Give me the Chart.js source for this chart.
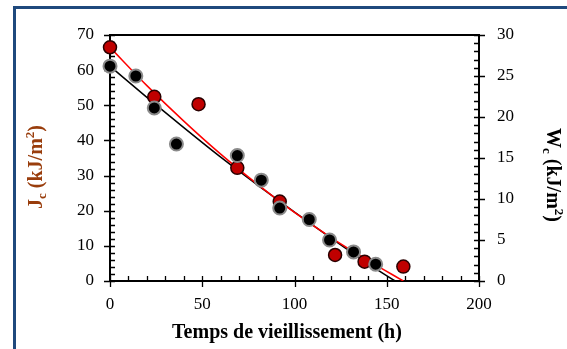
<!DOCTYPE html>
<html>
<head>
<meta charset="utf-8">
<script src="https://cdn.jsdelivr.net/npm/chart.js@4.4.1/dist/chart.umd.min.js"></script>
<style>
  html, body { margin: 0; padding: 0; background: #fff; }
  #wrap { width: 567px; height: 349px; position: relative; }
</style>
</head>
<body>
<div id="wrap"><canvas id="agingChart"></canvas></div>
<script>
// Jc (left axis, kJ/m2) - red points
const jcHours = [0, 24, 48, 69, 92, 122, 138, 159];
const jcValues = [66.5, 52.4, 50.3, 32.2, 22.6, 7.4, 5.5, 4.1];

// Wc (right axis, kJ/m2) - black points
const wcHours = [0, 14, 24, 36, 69, 82, 92, 108, 119, 132, 144];
const wcValues = [26.2, 25.0, 21.1, 16.7, 15.3, 12.3, 8.9, 7.5, 5.0, 3.55, 2.05];

// trend curves
const jcFitHours = [0, 20, 40, 60, 80, 100, 120, 140, 159];
const jcFitValues = [66.5, 55.6, 45.5, 36.1, 27.5, 19.5, 12.3, 5.8, 0];
const wcFitHours = [0, 20, 40, 60, 80, 100, 120, 140, 154.5];
const wcFitValues = [26.2, 22.4, 18.7, 15.1, 11.7, 8.4, 5.2, 2.1, 0];

const xTicks = [0, 50, 100, 150, 200];
const jcTicks = [0, 10, 20, 30, 40, 50, 60, 70];
const wcTicks = [0, 5, 10, 15, 20, 25, 30];

const SERIF = "'Liberation Serif', 'Times New Roman', serif";
const FRAME_BLUE = '#1f497d';
const TITLE_BROWN = '#993d0c';

const toPoints = (xs, ys) => xs.map((x, i) => ({ x, y: ys[i] }));

// draws a rotated label made of runs (for subscripts / superscripts)
function drawRuns(ctx, runs, cx, cy, angle, color) {
  ctx.save();
  ctx.fillStyle = color;
  ctx.textBaseline = 'alphabetic';
  let total = 0;
  runs.forEach(r => {
    ctx.font = `bold ${r.size}px ${SERIF}`;
    r.w = ctx.measureText(r.t).width;
    total += r.w;
  });
  ctx.translate(cx, cy);
  ctx.rotate(angle);
  let x = -total / 2;
  runs.forEach(r => {
    ctx.font = `bold ${r.size}px ${SERIF}`;
    ctx.fillText(r.t, x, 6 + (r.dy || 0));
    x += r.w;
  });
  ctx.restore();
}

const decor = {
  id: 'decor',
  beforeDraw(chart) {
    const { ctx, width, height } = chart;
    ctx.save();
    ctx.fillStyle = '#fff';
    ctx.fillRect(0, 0, width, height);
    ctx.fillStyle = FRAME_BLUE;
    ctx.fillRect(13, 6, width - 13, 3);
    ctx.fillRect(13, 6, 3, height - 6);
    ctx.restore();
  },
  beforeDatasetsDraw(chart) {
    const { ctx, chartArea: a, scales } = chart;
    ctx.save();
    ctx.strokeStyle = '#000';
    // plot box
    ctx.lineWidth = 2;
    ctx.strokeRect(a.left, a.top, a.right - a.left, a.bottom - a.top);
    ctx.lineWidth = 1.3;
    ctx.beginPath();
    // x axis ticks: major crossing, minor inside
    for (let v = 0; v <= 200; v += 10) {
      const px = Math.round(scales.x.getPixelForValue(v)) + 0.5;
      const major = v % 50 === 0;
      ctx.moveTo(px, a.bottom - 5);
      ctx.lineTo(px, a.bottom + (major ? 6 : 0));
    }
    // left axis
    for (let v = 0; v <= 70; v += 2) {
      const py = Math.round(scales.y.getPixelForValue(v)) + 0.5;
      const major = v % 10 === 0;
      ctx.moveTo(a.left - (major ? 6 : 0), py);
      ctx.lineTo(a.left + 5, py);
    }
    // right axis
    for (let v = 0; v <= 30; v += 1) {
      const py = Math.round(scales.yW.getPixelForValue(v)) + 0.5;
      const major = v % 5 === 0;
      ctx.moveTo(a.right - 5, py);
      ctx.lineTo(a.right + (major ? 6 : 0), py);
    }
    ctx.stroke();
    ctx.restore();
  },
  afterDraw(chart) {
    const { ctx } = chart;
    drawRuns(ctx, [
      { t: 'J', size: 20 }, { t: 'c', size: 13, dy: 4 },
      { t: ' (kJ/m', size: 20 }, { t: '2', size: 13, dy: -8 }, { t: ')', size: 20 }
    ], 36, 167, -Math.PI / 2, TITLE_BROWN);
    drawRuns(ctx, [
      { t: 'W', size: 20 }, { t: 'c', size: 13, dy: 4 },
      { t: ' (kJ/m', size: 20 }, { t: '2', size: 13, dy: -8 }, { t: ')', size: 20 }
    ], 553, 175, Math.PI / 2, '#000');
    ctx.save();
    ctx.fillStyle = '#000';
    ctx.font = `bold 20px ${SERIF}`;
    ctx.textAlign = 'center';
    ctx.textBaseline = 'middle';
    ctx.fillText('Temps de vieillissement (h)', 287, 333);
    ctx.restore();
  }
};

const tickFont = { family: SERIF, size: 17 };

new Chart(document.getElementById('agingChart'), {
  type: 'scatter',
  data: {
    datasets: [
      {
        label: 'Wc',
        data: toPoints(wcHours, wcValues),
        yAxisID: 'yW',
        backgroundColor: '#000',
        borderColor: '#8a8a8a',
        borderWidth: 2,
        pointRadius: 6.5,
        clip: false
      },
      {
        label: 'Jc',
        data: toPoints(jcHours, jcValues),
        yAxisID: 'y',
        backgroundColor: '#c00000',
        borderColor: '#2a0000',
        borderWidth: 1.5,
        pointRadius: 6.5,
        clip: false
      },
      {
        label: 'Jc fit',
        data: toPoints(jcFitHours, jcFitValues),
        yAxisID: 'y',
        showLine: true,
        borderColor: '#ff0000',
        borderWidth: 1.5,
        pointRadius: 0,
        cubicInterpolationMode: 'monotone'
      },
      {
        label: 'Wc fit',
        data: toPoints(wcFitHours, wcFitValues),
        yAxisID: 'yW',
        showLine: true,
        borderColor: '#000',
        borderWidth: 1.5,
        pointRadius: 0,
        cubicInterpolationMode: 'monotone'
      }
    ]
  },
  options: {
    responsive: true,
    maintainAspectRatio: false,
    animation: false,
    layout: { padding: { top: 35, left: 0, right: 0, bottom: 0 } },
    plugins: { legend: { display: false }, tooltip: { enabled: false } },
    scales: {
      x: {
        type: 'linear',
        min: 0, max: 200,
        afterBuildTicks: s => { s.ticks = xTicks.map(v => ({ value: v })); },
        afterFit: s => { s.height = 68; },
        grid: { display: false, drawTicks: false, tickLength: 0 },
        border: { display: false },
        ticks: { font: tickFont, color: '#000', padding: 13, maxRotation: 0, autoSkip: false }
      },
      y: {
        position: 'left',
        min: 0, max: 70,
        afterBuildTicks: s => { s.ticks = jcTicks.map(v => ({ value: v })); },
        afterFit: s => { s.width = 110; },
        grid: { display: false, drawTicks: false, tickLength: 0 },
        border: { display: false },
        ticks: { font: tickFont, color: '#000', padding: 16, autoSkip: false }
      },
      yW: {
        position: 'right',
        min: 0, max: 30,
        afterBuildTicks: s => { s.ticks = wcTicks.map(v => ({ value: v })); },
        afterFit: s => { s.width = 88; },
        grid: { display: false, drawTicks: false, tickLength: 0 },
        border: { display: false },
        ticks: { font: tickFont, color: '#000', padding: 18, autoSkip: false }
      }
    }
  },
  plugins: [decor]
});
</script>
</body>
</html>
